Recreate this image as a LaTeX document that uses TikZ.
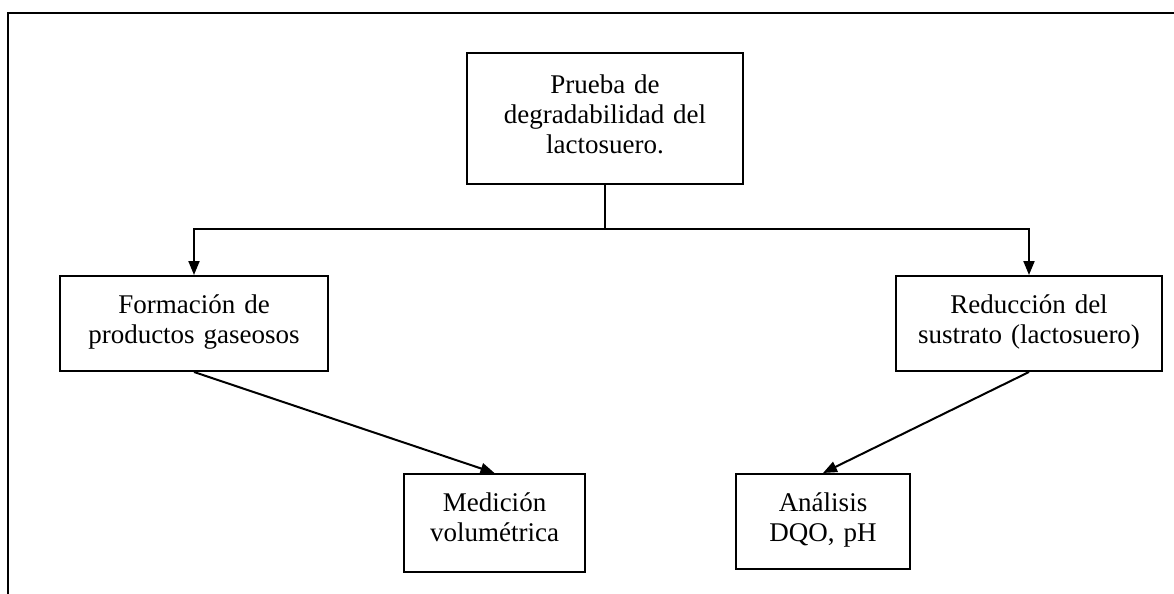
\documentclass[tikz,border=0pt]{standalone}
\usepackage{fontspec}
\setmainfont{Liberation Serif}
\usepackage{tikz}
\usetikzlibrary{arrows.meta}
\tikzstyle{caja}=[%
      rectangle, draw=black, line width=1pt, fill=none,
      inner xsep=0pt, inner ysep=0pt, text height=18.5pt, align=center,
      anchor=north, font=\fontsize{13.5}{15}\selectfont
]
\tikzstyle{flecha}=[%
      line width=1pt, -{Triangle[length=7pt,width=5.5pt]}
]

\begin{document}
\begin{tikzpicture}[x=0.5pt, y=-0.5pt]
    \useasboundingbox (0,0) rectangle (1174,594);
    \draw[line width=1.2pt] (8,594) -- (8,13) -- (1174,13);

    \node[caja, text width=138pt, text height=20pt, text depth=45.5pt] (prueba) at (605,52) {Prueba de\\degradabilidad del\\lactosuero.};
    \node[caja, text width=134pt, text depth=29pt]   (formacion) at (194,275)   {Formación de\\productos gaseosos};
    \node[caja, text width=133pt, text depth=29pt]   (reduccion) at (1029,275)  {Reducción del\\sustrato (lactosuero)};
    \node[caja, text width=90.5pt, text depth=30.5pt] (medicion) at (494.5,473) {Medición\\volumétrica};
    \node[caja, text width=87pt, text depth=29pt]    (analisis)  at (823,473)   {Análisis\\DQO, pH};

    \coordinate (rama) at (605,229);
    \draw[line width=1pt] (prueba.south) -- (rama);
    \draw[flecha] (rama) -| (formacion.north);
    \draw[flecha] (rama) -| (reduccion.north);
    \draw[flecha] (formacion.south) -- (medicion.north);
    \draw[flecha] (reduccion.south) -- (analisis.north);

  \end{tikzpicture}
\end{document}
